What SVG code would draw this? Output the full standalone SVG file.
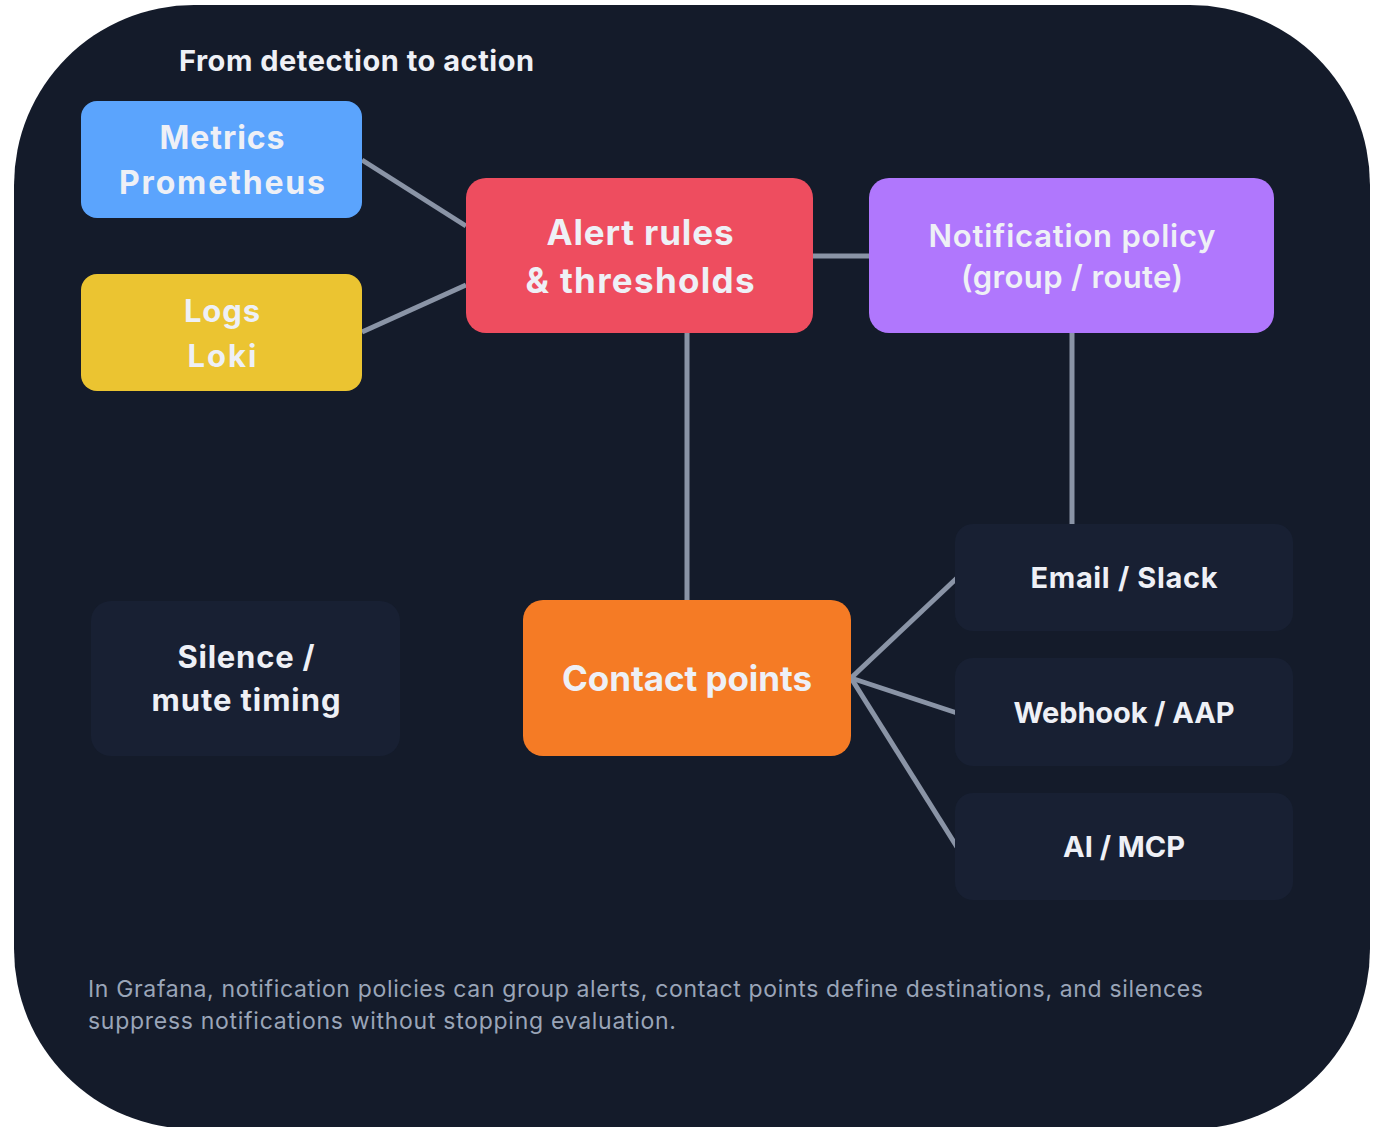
<svg xmlns="http://www.w3.org/2000/svg" width="1383" height="1127" viewBox="0 0 1383 1127">
<style>
.lbl{font-family:Inter,"Noto Sans","Liberation Sans",sans-serif;font-weight:700;fill:#eef0f6;text-anchor:middle}
.big{font-size:35px}
.mid{font-size:31px}
.sm{font-size:29px}
.conn{stroke:#8a94a6;stroke-width:5;fill:none}
.dark{fill:#182033}
.foot{font-family:Inter,"Noto Sans","Liberation Sans",sans-serif;font-size:23px;fill:#9aa5b8}
</style>
<rect x="0" y="0" width="1383" height="1127" fill="#ffffff"/>
<rect x="14" y="5" width="1356" height="1124" rx="180" ry="180" fill="#141b2a"/>
<text x="179" y="71" class="lbl" style="text-anchor:start;font-size:29px" textLength="355" lengthAdjust="spacing">From detection to action</text>
<g id="connectors">
<line class="conn" x1="362" y1="160" x2="466" y2="226"/>
<line class="conn" x1="362" y1="332" x2="466" y2="285"/>
<line class="conn" x1="813" y1="256" x2="869" y2="256"/>
<line class="conn" x1="687" y1="333" x2="687" y2="600"/>
<line class="conn" x1="1072" y1="333" x2="1072" y2="524"/>
<line class="conn" x1="851" y1="678" x2="957" y2="578"/>
<line class="conn" x1="851" y1="678" x2="957" y2="713"/>
<line class="conn" x1="851" y1="678" x2="957" y2="847"/>
</g>
<g id="metrics">
<rect x="81" y="101" width="281" height="117" rx="16" fill="#5ba4fd"/>
<text x="222" y="149" class="lbl" style="font-size:32px" textLength="125" lengthAdjust="spacing">Metrics</text>
<text x="222" y="194" class="lbl" style="font-size:32px" textLength="206" lengthAdjust="spacing">Prometheus</text>
</g>
<g id="logs">
<rect x="81" y="274" width="281" height="117" rx="16" fill="#ebc431"/>
<text x="222" y="322" class="lbl mid" textLength="76" lengthAdjust="spacing">Logs</text>
<text x="222" y="367" class="lbl mid" textLength="69" lengthAdjust="spacing">Loki</text>
</g>
<g id="alert">
<rect x="466" y="178" width="347" height="155" rx="20" fill="#ee4d5f"/>
<text x="640" y="245" class="lbl big" textLength="187" lengthAdjust="spacing">Alert rules</text>
<text x="640" y="293" class="lbl big" textLength="229" lengthAdjust="spacing">&amp; thresholds</text>
</g>
<g id="policy">
<rect x="869" y="178" width="405" height="155" rx="20" fill="#b077fd"/>
<text x="1072" y="247" class="lbl mid" style="font-weight:600" textLength="287" lengthAdjust="spacing">Notification policy</text>
<text x="1072" y="288" class="lbl mid" style="font-weight:600" textLength="222" lengthAdjust="spacing">(group / route)</text>
</g>
<g id="contact">
<rect x="523" y="600" width="328" height="156" rx="20" fill="#f57b25"/>
<text x="687" y="691" class="lbl big" textLength="250" lengthAdjust="spacing">Contact points</text>
</g>
<g id="email">
<rect x="955" y="524" width="338" height="107" rx="18" class="dark"/>
<text x="1124" y="588" class="lbl sm" textLength="187" lengthAdjust="spacing">Email / Slack</text>
</g>
<g id="webhook">
<rect x="955" y="658" width="338" height="108" rx="18" class="dark"/>
<text x="1124" y="723" class="lbl sm" textLength="221" lengthAdjust="spacing">Webhook / AAP</text>
</g>
<g id="ai">
<rect x="955" y="793" width="338" height="107" rx="18" class="dark"/>
<text x="1124" y="857" class="lbl sm" textLength="122" lengthAdjust="spacing">AI / MCP</text>
</g>
<g id="silence">
<rect x="91" y="601" width="309" height="155" rx="20" class="dark"/>
<text x="246" y="668" class="lbl mid" textLength="137" lengthAdjust="spacing">Silence /</text>
<text x="246" y="711" class="lbl mid" textLength="189" lengthAdjust="spacing">mute timing</text>
</g>
<text x="88" y="997" class="foot" textLength="1115" lengthAdjust="spacing">In Grafana, notification policies can group alerts, contact points define destinations, and silences</text>
<text x="88" y="1029" class="foot" textLength="588" lengthAdjust="spacing">suppress notifications without stopping evaluation.</text>
</svg>
